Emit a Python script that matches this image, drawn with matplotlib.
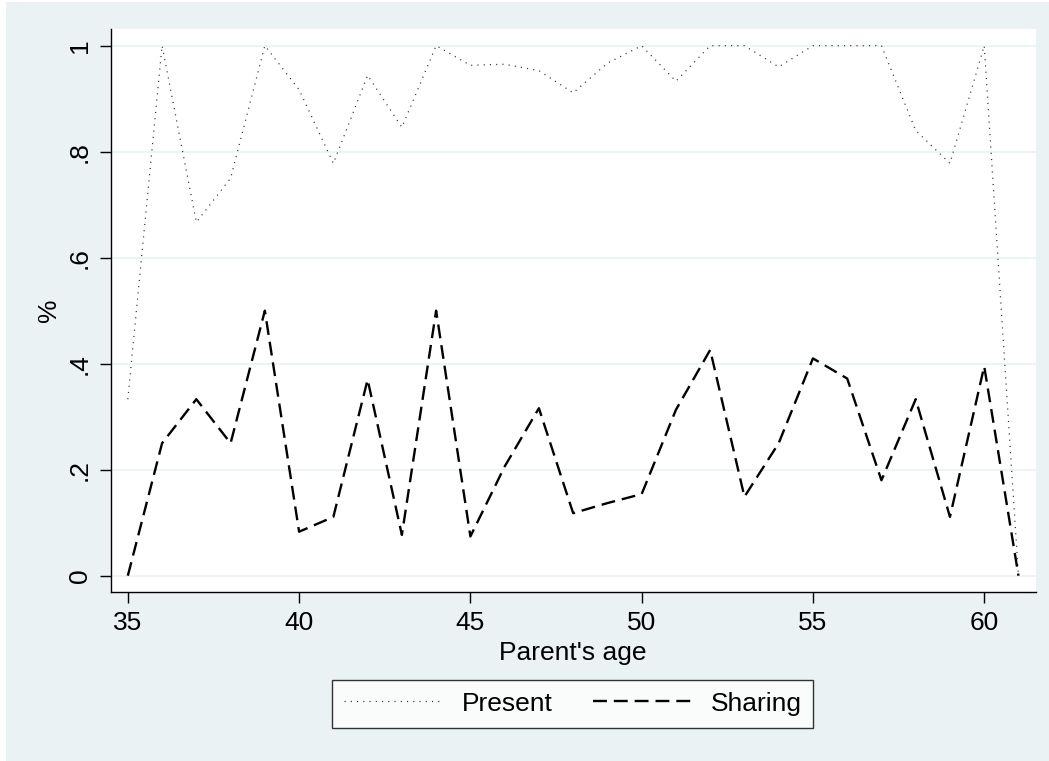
import numpy as np
import matplotlib
matplotlib.use("Agg")
import matplotlib.pyplot as plt
from matplotlib.patches import Rectangle

plt.rcParams['font.family'] = ['Liberation Sans', 'DejaVu Sans']
plt.rcParams['lines.scale_dashes'] = False

# Данные
ages = list(range(35, 62))
present = [0.333, 1.0, 0.667, 0.75, 1.0, 0.917, 0.778, 0.944, 0.846, 1.0,
           0.963, 0.965, 0.953, 0.911, 0.967, 1.0, 0.933, 1.0, 1.0, 0.96,
           1.0, 1.0, 1.0, 0.84, 0.778, 1.0, 0.0]
sharing = [0.0, 0.25, 0.333, 0.25, 0.5, 0.083, 0.111, 0.37, 0.077, 0.5,
           0.074, 0.206, 0.316, 0.118, 0.137, 0.154, 0.313, 0.426, 0.149, 0.25,
           0.41, 0.372, 0.18, 0.333, 0.111, 0.395, 0.0]
yticks = [0, 0.2, 0.4, 0.6, 0.8, 1.0]
ytick_labels = ['0', '.2', '.4', '.6', '.8', '1']
xticks = [35, 40, 45, 50, 55, 60]

bg = '#EAF2F3'
W, H = 1049, 761

fig = plt.figure(figsize=(W / 100, H / 100), dpi=100, facecolor='white')
# фон области графика (Stata s2color)
fig.patches.append(Rectangle((6 / W, 0), 1 - 6 / W, 1 - 2 / H,
                             transform=fig.transFigure, facecolor=bg,
                             edgecolor='none', zorder=-10))

left, right, top, bottom = 110.7, 1035.6, 29, 592.3
ax = fig.add_axes([left / W, 1 - bottom / H, (right - left) / W, (bottom - top) / H])
ax.set_facecolor('white')

ax.plot(ages, present, color='#333333', lw=0.9, dashes=(0.8, 3.7), label='Present')
ax.plot(ages, sharing, color='black', lw=1.7, dashes=(10.0, 5.0), label='Sharing')

ax.set_xlim(34.5, 61.5)
ax.set_ylim(-0.0313, 1.0315)
ax.set_xticks(xticks)
ax.set_yticks(yticks)
ax.set_yticklabels(ytick_labels)
ax.grid(axis='y', color=bg, lw=1.2)
ax.set_axisbelow(True)

for s in ['top', 'right']:
    ax.spines[s].set_visible(False)
for s in ['left', 'bottom']:
    ax.spines[s].set_linewidth(1.0)

ax.tick_params(axis='both', direction='out', length=7.8, width=1.0, labelsize=19)
ax.tick_params(axis='y', labelrotation=90, pad=6)
ax.tick_params(axis='x', pad=6)
for lab in ax.get_yticklabels():
    lab.set_va('center')

ax.set_xlabel("Parent's age", fontsize=19, labelpad=4)
ax.set_ylabel('%', fontsize=19, labelpad=5)

leg = fig.legend(loc='center', bbox_to_anchor=(572.8 / W, 1 - 703.7 / H), ncol=2,
                 fontsize=19, frameon=True, fancybox=False, edgecolor='black',
                 handlelength=3.8, handletextpad=0.65, columnspacing=1.55,
                 borderpad=0.45)
leg.get_frame().set_linewidth(1.0)

fig.savefig('out.png', dpi=100, facecolor=fig.get_facecolor())
